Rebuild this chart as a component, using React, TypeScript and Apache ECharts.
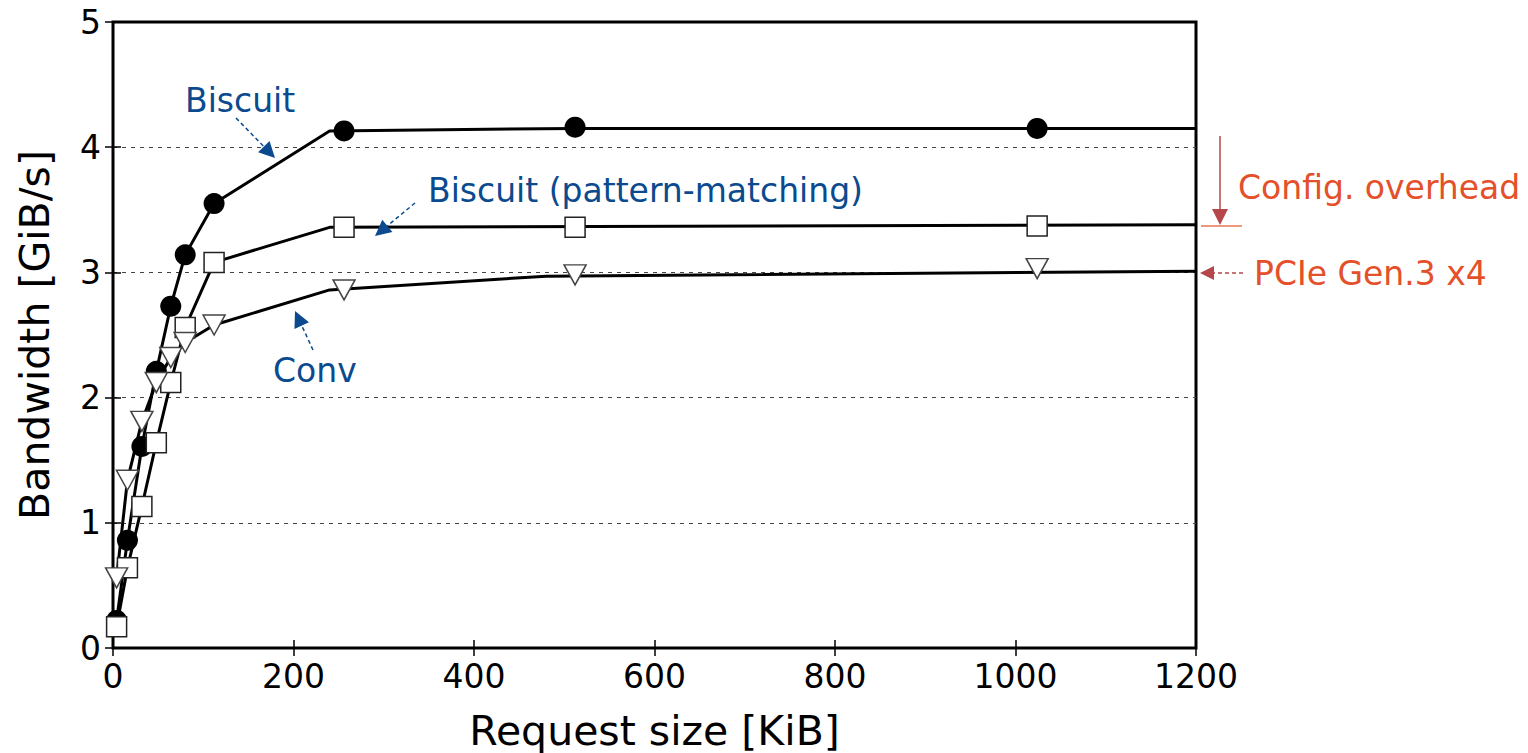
import React, { useEffect, useRef } from "react";
import * as echarts from "echarts";

// Marker data (Request size KiB, Bandwidth GiB/s)
const biscuitX = [4, 16, 32, 48, 64, 80, 112, 256, 512, 1024];
const biscuitY = [0.22, 0.86, 1.61, 2.21, 2.73, 3.14, 3.55, 4.13, 4.16, 4.15];
const patternX = [4, 16, 32, 48, 64, 80, 112, 256, 512, 1024];
const patternY = [0.17, 0.64, 1.13, 1.64, 2.12, 2.56, 3.08, 3.36, 3.36, 3.37];
const convX = [4, 16, 32, 48, 64, 80, 112, 256, 512, 1024];
const convY = [0.56, 1.34, 1.81, 2.12, 2.32, 2.44, 2.58, 2.86, 2.98, 3.03];

// Line vertices as drawn in the figure
const biscuitLineX = [4, 16, 32, 48, 64, 80, 112, 240, 512, 1200];
const biscuitLineY = [0.22, 0.86, 1.61, 2.21, 2.73, 3.14, 3.55, 4.13, 4.15, 4.15];
const patternLineX = [4, 16, 32, 48, 64, 80, 112, 240, 1200];
const patternLineY = [0.17, 0.64, 1.13, 1.64, 2.12, 2.56, 3.08, 3.36, 3.38];
const convLineX = [4, 16, 32, 48, 64, 80, 112, 240, 480, 1200];
const convLineY = [0.56, 1.34, 1.81, 2.12, 2.32, 2.44, 2.58, 2.86, 2.97, 3.01];

const xTicks = [0, 200, 400, 600, 800, 1000, 1200];
const yTicks = [0, 1, 2, 3, 4, 5];

const FONT = "DejaVu Sans";
const BLUE = "#0b4a8e";
const RED_TEXT = "#e4502a";
const RED_ARROW = "#b5474b";

const zip = (xs: number[], ys: number[]) => xs.map((x, i) => [x, ys[i]]);

function arrow(x1: number, y1: number, x2: number, y2: number, color: string, dashed: boolean, headLen = 16, headW = 8) {
  const dx = x2 - x1;
  const dy = y2 - y1;
  const len = Math.sqrt(dx * dx + dy * dy);
  const ux = dx / len;
  const uy = dy / len;
  const bx = x2 - ux * headLen;
  const by = y2 - uy * headLen;
  const px = -uy;
  const py = ux;
  return [
    {
      type: "line",
      shape: { x1, y1, x2: bx, y2: by },
      style: { stroke: color, lineWidth: 1.5, lineDash: dashed ? [4, 3] : null },
      z: 20,
    },
    {
      type: "polygon",
      shape: {
        points: [
          [x2, y2],
          [bx + px * headW, by + py * headW],
          [bx - px * headW, by - py * headW],
        ],
      },
      style: { fill: color },
      z: 20,
    },
  ];
}

function label(text: string, x: number, y: number, color: string) {
  return {
    type: "text",
    x,
    y,
    style: {
      text,
      fill: color,
      font: `33px "${FONT}"`,
      textAlign: "left",
      textVerticalAlign: "middle",
    },
    z: 20,
  };
}

export default function App() {
  const ref = useRef<HTMLDivElement>(null);
  useEffect(() => {
    if (!ref.current) return;
    const chart = echarts.init(ref.current, null, { renderer: "svg" });
    const axisCommon = {
      type: "value",
      axisLine: { show: false },
      axisTick: { show: true, inside: true, length: 8, lineStyle: { color: "#000", width: 1.5 } },
      splitLine: { show: false },
    };
    const plain = (v: number) => String(v);
    chart.setOption({
      animation: false,
      backgroundColor: "#fff",
      grid: {
        left: 113,
        top: 22,
        right: 332,
        bottom: 105,
        containLabel: false,
        outerBoundsMode: "none",
        show: true,
        borderColor: "#000",
        borderWidth: 3,
        backgroundColor: "#fff",
        z: 0,
      },
      xAxis: [
        {
          ...axisCommon,
          min: xTicks[0],
          max: xTicks[xTicks.length - 1],
          interval: 200,
          axisLabel: { color: "#000", fontSize: 33, fontFamily: FONT, margin: 12, formatter: plain },
          name: "Request size [KiB]",
          nameLocation: "middle",
          nameGap: 62,
          nameTextStyle: { color: "#000", fontSize: 41, fontFamily: FONT },
        },
        {
          ...axisCommon,
          position: "top",
          min: xTicks[0],
          max: xTicks[xTicks.length - 1],
          interval: 200,
          axisLabel: { show: false },
        },
      ],
      yAxis: [
        {
          ...axisCommon,
          min: yTicks[0],
          max: yTicks[yTicks.length - 1],
          interval: 1,
          axisLabel: { color: "#000", fontSize: 33, fontFamily: FONT, margin: 12, formatter: plain },
          splitLine: {
            show: true,
            showMinLine: false,
            showMaxLine: false,
            lineStyle: { color: "#444", width: 1.2, type: [4, 5] },
          },
          name: "Bandwidth [GiB/s]",
          nameLocation: "middle",
          nameGap: 58,
          nameTextStyle: { color: "#000", fontSize: 41, fontFamily: FONT },
        },
        {
          ...axisCommon,
          position: "right",
          min: yTicks[0],
          max: yTicks[yTicks.length - 1],
          interval: 1,
          axisLabel: { show: false },
        },
      ],
      series: [
        {
          type: "line",
          data: zip(convLineX, convLineY),
          symbol: "none",
          lineStyle: { color: "#000", width: 3 },
          z: 3,
        },
        {
          type: "line",
          data: zip(patternLineX, patternLineY),
          symbol: "none",
          lineStyle: { color: "#000", width: 3 },
          z: 3,
        },
        {
          type: "line",
          data: zip(biscuitLineX, biscuitLineY),
          symbol: "none",
          lineStyle: { color: "#000", width: 3 },
          z: 3,
        },
        {
          type: "scatter",
          data: zip(biscuitX, biscuitY),
          symbol: "circle",
          symbolSize: 21,
          itemStyle: { color: "#000", borderWidth: 0, opacity: 1 },
          z: 5,
        },
        {
          type: "scatter",
          data: zip(patternX, patternY),
          symbol: "rect",
          symbolSize: 20,
          itemStyle: { color: "#fff", borderColor: "#222", borderWidth: 1.5, opacity: 1 },
          z: 6,
        },
        {
          type: "scatter",
          data: zip(convX, convY),
          symbol: "triangle",
          symbolRotate: 180,
          symbolSize: [22, 20],
          itemStyle: { color: "#fff", borderColor: "#444", borderWidth: 1.5, opacity: 1 },
          z: 7,
        },
      ],
      graphic: [
        label("Biscuit", 185, 100, BLUE),
        ...arrow(236, 118, 275, 158, BLUE, true),
        label("Biscuit (pattern-matching)", 428, 190, BLUE),
        ...arrow(415, 203, 375, 236, BLUE, true),
        label("Conv", 273, 370, BLUE),
        ...arrow(313, 350, 295, 311, BLUE, true),
        ...arrow(1220, 136, 1220, 225, RED_ARROW, false, 16, 8),
        {
          type: "line",
          shape: { x1: 1201, y1: 226, x2: 1242, y2: 226 },
          style: { stroke: "#e8764f", lineWidth: 1.5 },
          z: 20,
        },
        label("Config. overhead", 1238, 187, RED_TEXT),
        ...arrow(1243, 273, 1200, 273, RED_ARROW, true, 14, 7),
        label("PCIe Gen.3 x4", 1254, 273, RED_TEXT),
      ],
    });
    return () => chart.dispose();
  }, []);
  return (
    <div
      ref={ref}
      style={{ position: "fixed", left: 0, top: 0, width: 1528, height: 753 }}
    />
  );
}
